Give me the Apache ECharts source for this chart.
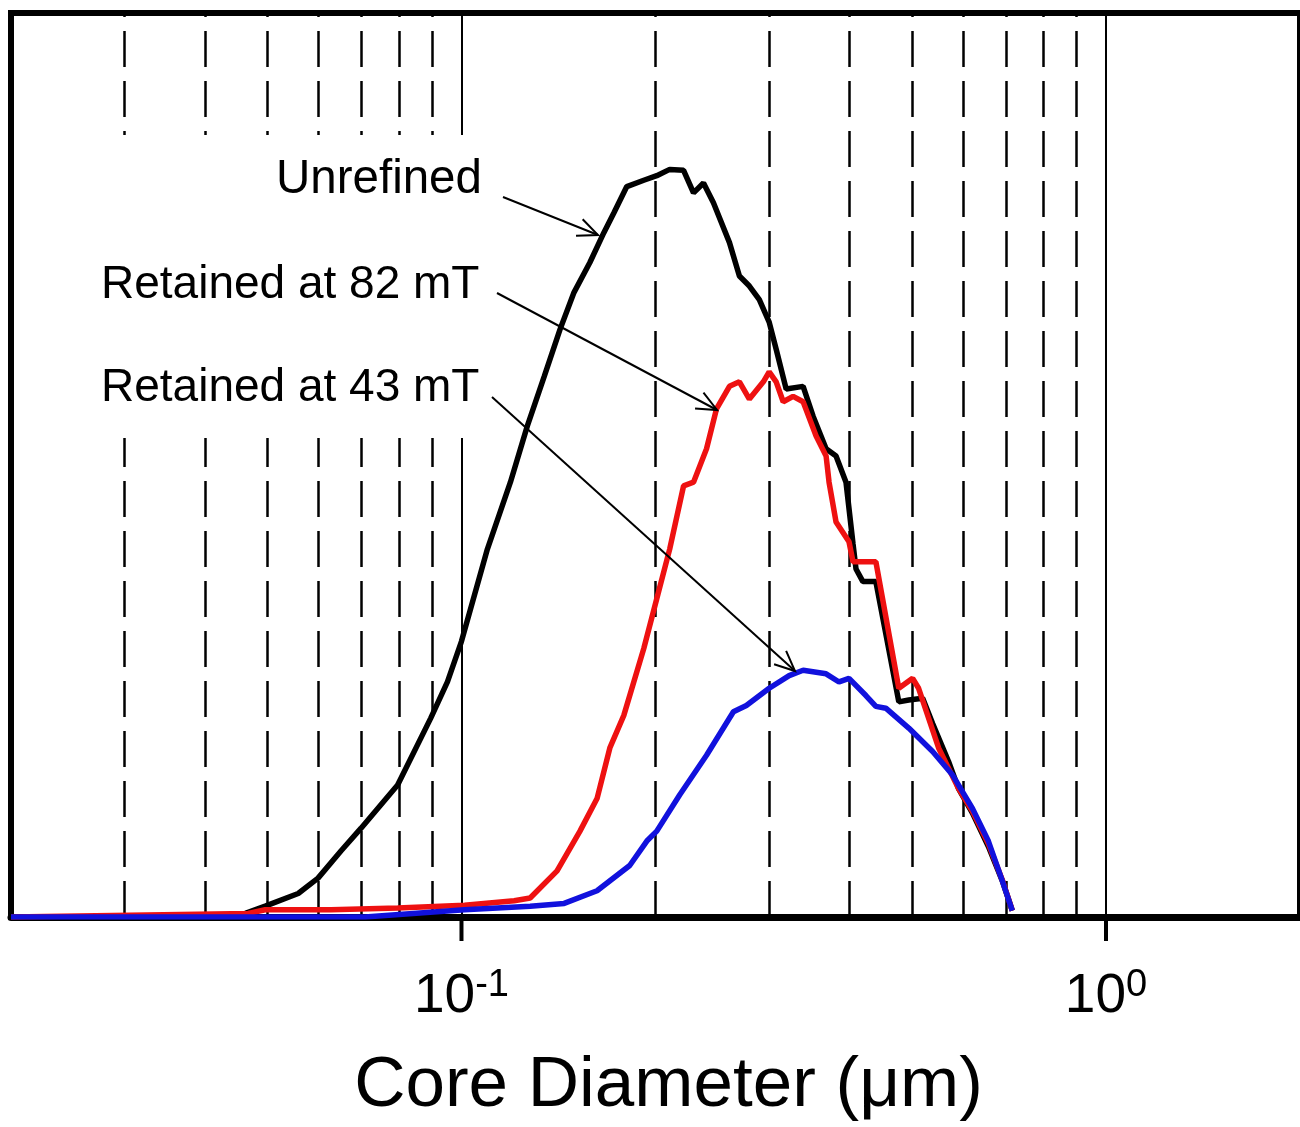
<!DOCTYPE html>
<html>
<head>
<meta charset="utf-8">
<title>Core Diameter</title>
<script src="https://cdn.jsdelivr.net/npm/echarts@6/dist/echarts.min.js"></script>
<style>
  html, body { margin: 0; padding: 0; background: #fff; }
  #chart { width: 1300px; height: 1127px; }
</style>
</head>
<body>
<div id="chart"></div>
<script>
  // core diameter (um) vs relative amount
  const unrefinedX = [0.02, 0.0435, 0.0462, 0.0496, 0.0558, 0.0599, 0.0650, 0.0698, 0.0796, 0.0896, 0.0951, 0.1, 0.1097, 0.1191, 0.1265, 0.1344, 0.1422, 0.1495, 0.1582, 0.1663, 0.1724, 0.1805, 0.1918, 0.2009, 0.2104, 0.2211, 0.2291, 0.2374, 0.2460, 0.2605, 0.2699, 0.2797, 0.2898, 0.3002, 0.3078, 0.3190, 0.3389, 0.3512, 0.3679, 0.3812, 0.3950, 0.4050, 0.4094, 0.4196, 0.4395, 0.4770, 0.4943, 0.5195, 0.5383, 0.5698, 0.5905, 0.6206, 0.6569, 0.6905, 0.7155]
  const unrefinedY = [0, 0, 0.4, 1.2, 2.6, 4.3, 7.3, 9.8, 14.6, 22.0, 26.0, 30.5, 40.7, 48.1, 54.3, 59.8, 65.0, 69.1, 72.4, 75.7, 77.9, 80.8, 81.5, 82.0, 82.7, 82.6, 80.1, 81.2, 79.0, 74.6, 70.9, 69.8, 68.3, 65.8, 62.8, 58.4, 58.7, 55.4, 51.8, 51.0, 48.1, 41.3, 38.5, 37.1, 37.1, 23.8, 24.0, 24.2, 21.4, 17.2, 14.2, 11.5, 7.8, 4.0, 0.7]

  const mt82X = [0.02, 0.0467, 0.0496, 0.0627, 0.0796, 0.1011, 0.1207, 0.1278, 0.1407, 0.1527, 0.1623, 0.1699, 0.1786, 0.1918, 0.2009, 0.2104, 0.2211, 0.2291, 0.2400, 0.2487, 0.2605, 0.2699, 0.2797, 0.2940, 0.3002, 0.3078, 0.3156, 0.3270, 0.3389, 0.3550, 0.3679, 0.3718, 0.3812, 0.3993, 0.4050, 0.4395, 0.4770, 0.5012, 0.5120, 0.5499, 0.5905, 0.6206, 0.6569, 0.6905, 0.7155]
  const mt82Y = [0, 0.4, 0.8, 0.8, 1.0, 1.3, 1.8, 2.1, 5.1, 9.5, 13.1, 18.7, 22.3, 29.7, 35.2, 40.7, 47.7, 48.1, 51.8, 56.2, 58.7, 59.2, 57.3, 59.2, 60.3, 59.2, 57.0, 57.6, 57.0, 53.2, 51.0, 48.1, 43.7, 41.5, 39.3, 39.3, 25.3, 26.4, 25.3, 18.7, 14.2, 11.7, 8.1, 4.1, 0.7]

  const mt43X = [0.02, 0.0708, 0.1011, 0.1278, 0.1443, 0.1623, 0.1824, 0.1939, 0.2009, 0.2180, 0.2400, 0.2642, 0.2767, 0.3002, 0.3224, 0.3389, 0.3679, 0.3853, 0.3993, 0.4241, 0.4395, 0.4554, 0.4943, 0.5383, 0.5781, 0.6206, 0.6569, 0.6905, 0.7155]
  const mt43Y = [0, 0, 0.8, 1.2, 1.5, 2.9, 5.7, 8.4, 9.5, 13.5, 17.9, 22.7, 23.4, 25.3, 26.7, 27.3, 26.9, 26.0, 26.4, 24.5, 23.3, 23.1, 20.9, 18.3, 15.7, 12.0, 8.4, 4.0, 0.7]

  // vertical grid lines
  const dashedLines = [0.03, 0.04, 0.05, 0.06, 0.07, 0.08, 0.09, 0.2, 0.3, 0.4, 0.5, 0.6, 0.7, 0.8, 0.9]
  const solidLines = [0.1, 1]
  const tickValues = [0.1, 1]

  const font = "'Liberation Sans', Arial, sans-serif"
  const zip = (xs, ys) => xs.map((x, i) => [x, ys[i]])

  // text labels with their arrows (pixels)
  const notes = [
    { text: 'Unrefined', size: 47.5, x: 276, y: 180, from: [503, 197], to: [598, 235] },
    { text: 'Retained at 82 mT', size: 46, x: 101, y: 285, from: [497, 293], to: [717, 410] },
    { text: 'Retained at 43 mT', size: 46, x: 101, y: 388, from: [492, 397], to: [795, 671] },
  ]

  function arrow(from, to) {
    const a = Math.atan2(to[1] - from[1], to[0] - from[0])
    const len = 22
    const spread = 0.42
    const style = { stroke: '#000', lineWidth: 2, fill: null }
    return [
      { type: 'line', z: 10, shape: { x1: from[0], y1: from[1], x2: to[0], y2: to[1] }, style },
      {
        type: 'polyline', z: 10,
        shape: {
          points: [
            [to[0] - len * Math.cos(a - spread), to[1] - len * Math.sin(a - spread)],
            to,
            [to[0] - len * Math.cos(a + spread), to[1] - len * Math.sin(a + spread)],
          ],
        },
        style,
      },
    ]
  }

  const graphics = [
    // blank box behind the labels, hides the grid lines there
    { type: 'rect', z: 2, shape: { x: 98, y: 135, width: 398, height: 303 }, style: { fill: '#fff' } },
  ]
  for (const n of notes) {
    graphics.push({
      type: 'text', z: 10, x: n.x, y: n.y,
      style: { text: n.text, font: `${n.size}px ${font}`, fill: '#000', verticalAlign: 'middle', align: 'left' },
    })
    graphics.push(...arrow(n.from, n.to))
  }

  const chart = echarts.init(document.getElementById('chart'))
  chart.setOption({
    animation: false,
    backgroundColor: '#fff',
    grid: {
      left: 11, right: -6, top: 13, bottom: 207,
      show: true, borderColor: '#000', borderWidth: 6, backgroundColor: 'transparent',
    },
    xAxis: {
      type: 'log',
      logBase: 10,
      min: 0.02,
      max: 2,
      name: 'Core Diameter (μm)',
      nameLocation: 'middle',
      nameGap: 134,
      nameTextStyle: { fontSize: 71, fontFamily: font, color: '#000', padding: [0, 0, 0, 26] },
      axisLine: { show: true, lineStyle: { color: '#000', width: 7 } },
      axisTick: { show: false },
      axisLabel: {
        customValues: tickValues,
        margin: 50,
        formatter: (v) => `{b|10}{s|${Math.round(Math.log10(v))}}`,
        rich: {
          b: { fontSize: 55, fontFamily: font, color: '#000', lineHeight: 60 },
          s: { fontSize: 38, fontFamily: font, color: '#000', lineHeight: 30, verticalAlign: 'top' },
        },
      },
      splitLine: { show: false },
      minorTick: { show: false },
    },
    yAxis: {
      type: 'value',
      min: 0,
      max: 100,
      axisLine: { show: false },
      axisTick: { show: false },
      axisLabel: { show: false },
      splitLine: { show: false },
    },
    graphic: { elements: graphics },
    series: [
      {
        name: 'grid',
        type: 'line',
        data: [],
        z: 1,
        silent: true,
        markLine: {
          z: 1,
          silent: true,
          symbol: 'none',
          label: { show: false },
          animation: false,
          data: [
            ...dashedLines.map((v) => ({ xAxis: v, lineStyle: { color: '#000', width: 2.5, type: [36, 14] } })),
            ...solidLines.map((v) => ({ xAxis: v, lineStyle: { color: '#000', width: 2, type: 'solid' } })),
          ],
        },
      },
      {
        name: 'Unrefined',
        type: 'line',
        z: 3,
        showSymbol: false,
        data: zip(unrefinedX, unrefinedY),
        lineStyle: { color: '#000', width: 5.5 },
      },
      {
        name: 'Retained at 82 mT',
        type: 'line',
        z: 4,
        showSymbol: false,
        data: zip(mt82X, mt82Y),
        lineStyle: { color: '#ee1111', width: 5.5 },
      },
      {
        name: 'Retained at 43 mT',
        type: 'line',
        z: 5,
        showSymbol: false,
        data: zip(mt43X, mt43Y),
        lineStyle: { color: '#1111dd', width: 5.5 },
      },
    ],
  })

  // decade ticks below the axis, placed through the axis scale
  const axisY = chart.convertToPixel({ yAxisIndex: 0 }, 0)
  const ticks = tickValues.map((v) => {
    const x = chart.convertToPixel({ xAxisIndex: 0 }, v)
    return { type: 'line', z: 10, shape: { x1: x, y1: axisY, x2: x, y2: axisY + 24 }, style: { stroke: '#000', lineWidth: 4 } }
  })
  chart.setOption({ graphic: { elements: [...graphics, ...ticks] } })
</script>
</body>
</html>
